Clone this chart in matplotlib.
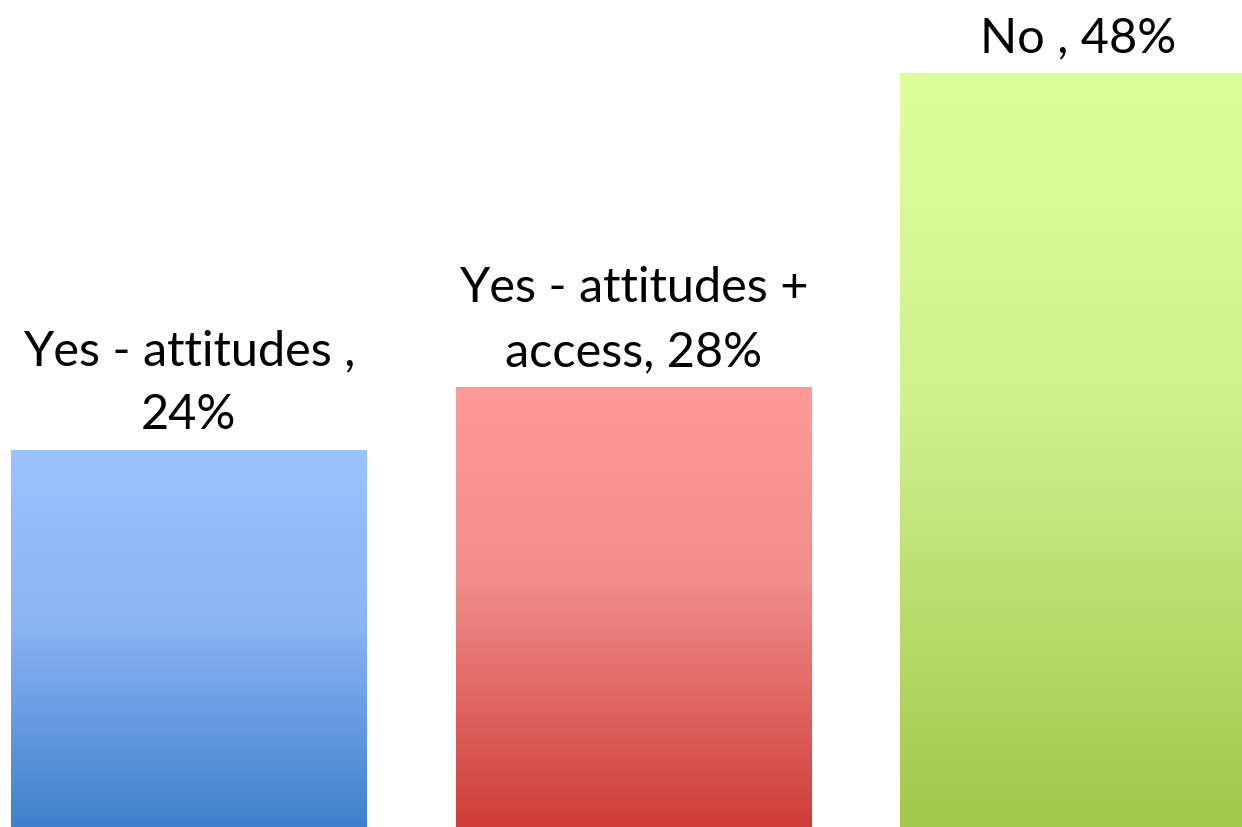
import numpy as np
import matplotlib
matplotlib.use('Agg')
import matplotlib.pyplot as plt
from matplotlib.colors import LinearSegmentedColormap

categories = ['Yes - attitudes ,\n24%', 'Yes - attitudes +\naccess, 28%', 'No , 48%']
values = [24, 28, 48]
# light top, a bit darker at ~40%, dark bottom
top_colors = ['#9CC2FF', '#FF9A99', '#DCFF9C']
mid_colors = ['#8DB5F4', '#F08C89', '#D0F08E']
bottom_colors = ['#3F80CD', '#CE3D39', '#A0C84A']

plt.rcParams['font.family'] = ['Lato', 'DejaVu Sans']

fig = plt.figure(figsize=(12.42, 8.28), dpi=100)
ax = fig.add_axes([0, 0, 1, 1])

x = np.arange(len(values))
bars = ax.bar(x, values, width=0.8, color='none', edgecolor='none')

grad = np.linspace(0, 1, 256).reshape(-1, 1)
for bar, top, mid, bot in zip(bars, top_colors, mid_colors, bottom_colors):
    cmap = LinearSegmentedColormap.from_list('g', [(0, bot), (0.55, mid), (1, top)])
    x0, w, h = bar.get_x(), bar.get_width(), bar.get_height()
    img = ax.imshow(grad, cmap=cmap, origin='lower', aspect='auto',
                    extent=[x0, x0 + w, 0, h], interpolation='bicubic', zorder=2)
    img.set_clip_path(bar)

for xi, v, label in zip(x, values, categories):
    ax.annotate(label, (xi, v), xytext=(0, 10), textcoords='offset points',
                ha='center', va='bottom', fontsize=35, linespacing=1.55)

ax.set_xlim(-0.425, 2.369)
ax.set_ylim(0, 52.7)
ax.axis('off')

fig.savefig('out.png', dpi=100)
